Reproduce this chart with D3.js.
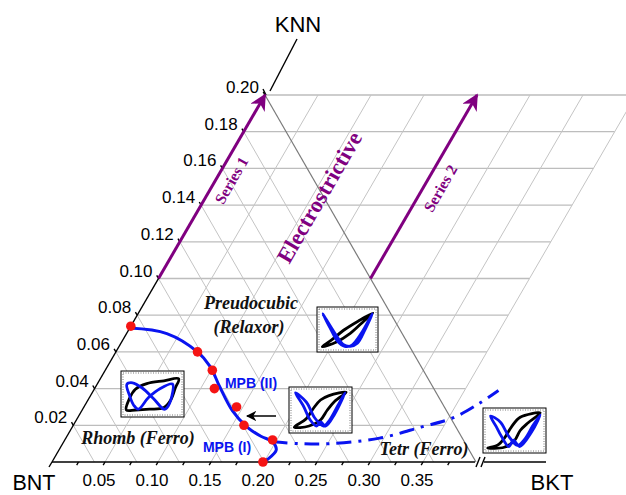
<!DOCTYPE html>
<html>
<head>
<meta charset="utf-8">
<script src="https://cdn.jsdelivr.net/npm/d3@7"></script>
<style>
  html, body { margin: 0; padding: 0; background: #fff; }
  svg { display: block; }
</style>
</head>
<body>
<svg id="chart" width="626" height="495"></svg>
<script>
// ---- data -------------------------------------------------------------
// grid / tick values
const knnTicks = [0.02, 0.04, 0.06, 0.08, 0.10, 0.12, 0.14, 0.16, 0.18, 0.20];
const knnTickLabels = ["0.02", "0.04", "0.06", "0.08", "0.10", "0.12", "0.14", "0.16", "0.18", "0.20"];
const bktTicks = [0.05, 0.10, 0.15, 0.20, 0.25, 0.30, 0.35];
const bktTickLabels = ["0.05", "0.10", "0.15", "0.20", "0.25", "0.30", "0.35"];
const bktMinorTicks = [0.025, 0.075, 0.125, 0.175, 0.225, 0.275, 0.325, 0.375];

// measured compositions [BKT, KNN]
const pointsBKT = [0.000, 0.077, 0.101, 0.113, 0.144, 0.161, 0.196, 0.199];
const pointsKNN = [0.074, 0.060, 0.050, 0.040, 0.030, 0.020, 0.012, 0.000];

// phase boundary (solid) and tetragonal boundary (dash-dot)
const boundaryBKT = [0.000, 0.038, 0.077, 0.097, 0.117, 0.142, 0.165, 0.183, 0.197, 0.205, 0.202, 0.199];
const boundaryKNN = [0.073, 0.070, 0.060, 0.052, 0.041, 0.028, 0.019, 0.014, 0.011, 0.0065, 0.0015, 0.000];
const tetrBKT = [0.197, 0.224, 0.252, 0.296, 0.329, 0.354, 0.371, 0.382];
const tetrKNN = [0.011, 0.010, 0.010, 0.013, 0.019, 0.024, 0.032, 0.039];

// series arrows [BKT, KNN] start and end
const seriesNames = ["Series 1", "Series 2"];
const seriesStart = [[0.00, 0.10], [0.20, 0.10]];
const seriesEnd = [[0.00, 0.20], [0.20, 0.20]];

// hysteresis loops for the insets (normalised field / response)
const loopA_P = [[0.04,0.10],[0.10,0.40],[0.20,0.62],[0.40,0.76],[0.70,0.83],[0.96,0.88],[0.90,0.65],[0.82,0.35],[0.70,0.16],[0.45,0.12],[0.20,0.10]];
const loopA_S = [[0.05,0.74],[0.10,0.45],[0.17,0.22],[0.25,0.12],[0.43,0.41],[0.63,0.63],[0.85,0.75],[0.84,0.45],[0.75,0.15],[0.70,0.12],[0.52,0.38],[0.32,0.65],[0.15,0.78]];
const loopB_P = [[0.04,0.06],[0.30,0.18],[0.55,0.40],[0.80,0.72],[0.96,0.92],[0.70,0.72],[0.45,0.50],[0.20,0.22]];
const loopB_S = [[0.05,0.90],[0.18,0.55],[0.32,0.20],[0.45,0.07],[0.58,0.10],[0.75,0.40],[0.95,0.90],[0.82,0.50],[0.68,0.15],[0.55,0.07],[0.42,0.12],[0.25,0.45]];
const loopC_P = [[0.04,0.07],[0.30,0.10],[0.50,0.25],[0.62,0.50],[0.75,0.72],[0.95,0.94],[0.65,0.86],[0.50,0.75],[0.38,0.55],[0.25,0.28]];
const loopC_S = [[0.06,0.93],[0.20,0.60],[0.32,0.25],[0.43,0.10],[0.50,0.20],[0.59,0.10],[0.75,0.40],[0.93,0.93],[0.80,0.60],[0.66,0.25],[0.55,0.10],[0.40,0.30],[0.25,0.70]];
const loopD_P = [[0.03,0.05],[0.32,0.07],[0.50,0.24],[0.60,0.50],[0.74,0.70],[0.95,0.95],[0.60,0.84],[0.45,0.60],[0.32,0.30],[0.20,0.12]];
const loopD_S = [[0.08,0.87],[0.18,0.60],[0.27,0.35],[0.40,0.09],[0.48,0.25],[0.59,0.09],[0.80,0.46],[0.95,0.90],[0.82,0.62],[0.68,0.28],[0.55,0.12],[0.40,0.35],[0.25,0.72]];

// ---- layout -----------------------------------------------------------
const svg = d3.select("#chart");
const X0 = 52, Y0 = 462;
const bkt = d3.scaleLinear().domain([0, 0.4]).range([0, 424]);
const knnY = d3.scaleLinear().domain([0, 0.2]).range([0, 367]);
const knnX = d3.scaleLinear().domain([0, 0.2]).range([0, 213]);
const px = (b, k) => X0 + bkt(b) + knnX(k);
const py = k => Y0 - knnY(k);

const SANS = "'Liberation Sans', Arial, sans-serif";
const SERIF = "'Liberation Serif', 'Times New Roman', serif";
const PURPLE = "#800080";
const BLUE = "#0a14f0";

// ---- grid -------------------------------------------------------------
const grid = svg.append("g").attr("stroke", "#c4c4c4").attr("stroke-width", 1).attr("fill", "none");
knnTicks.forEach(k => {
  grid.append("line").attr("x1", px(0, k)).attr("y1", py(k)).attr("x2", px(0.35, k)).attr("y2", py(k))
    .attr("stroke", "#bdbdbd").attr("stroke-width", 1.3);
});
bktTicks.forEach(b => {
  grid.append("line").attr("x1", px(b, 0)).attr("y1", py(0)).attr("x2", px(b, 0.2)).attr("y2", py(0.2));
});
knnTicks.filter(k => k < 0.2).forEach(k => {
  grid.append("line").attr("x1", px(0, k)).attr("y1", py(k)).attr("x2", px(2 * k, 0)).attr("y2", py(0));
});
// right edge of the triangle
svg.append("line").attr("x1", px(0, 0.2)).attr("y1", py(0.2)).attr("x2", px(0.4, 0)).attr("y2", py(0))
  .attr("stroke", "#7a7a7a").attr("stroke-width", 1.2);

// ---- axes -------------------------------------------------------------
const axes = svg.append("g").attr("stroke", "#000").attr("fill", "none").attr("stroke-width", 1.4);
axes.append("line").attr("x1", px(0, 0)).attr("y1", py(0)).attr("x2", px(0, 0.2)).attr("y2", py(0.2));
axes.append("line").attr("x1", px(0, 0)).attr("y1", py(0)).attr("x2", px(0.4, 0) - 1).attr("y2", py(0));
// axis break and extension
axes.append("line").attr("x1", 476).attr("y1", 467).attr("x2", 480).attr("y2", 457);
axes.append("line").attr("x1", 481).attr("y1", 467).attr("x2", 485).attr("y2", 457);
axes.append("line").attr("x1", 484).attr("y1", py(0)).attr("x2", 546).attr("y2", py(0));
// KNN axis title leader
axes.append("line").attr("x1", 270).attr("y1", 91).attr("x2", 297).attr("y2", 39);
axes.append("line").attr("x1", 266).attr("y1", 95).attr("x2", 263).attr("y2", 89);

// bottom ticks point down-left along the grid direction
const tickLen = 6;
const dxT = tickLen * Math.cos(Math.PI / 3), dyT = tickLen * Math.sin(Math.PI / 3);
bktTicks.concat(bktMinorTicks).forEach(b => {
  axes.append("line").attr("x1", px(b, 0)).attr("y1", py(0)).attr("x2", px(b, 0) - dxT * 0.6).attr("y2", py(0) + dyT * 0.6);
});
svg.append("line").attr("x1", px(0, 0)).attr("y1", py(0)).attr("x2", px(0, 0) - 3).attr("y2", py(0) + 5)
  .attr("stroke", "#000").attr("stroke-width", 1.4);
// left ticks point up-left
knnTicks.forEach(k => {
  axes.append("line").attr("x1", px(0, k)).attr("y1", py(k)).attr("x2", px(0, k) - dxT * 0.6).attr("y2", py(k) - dyT * 0.6);
});

const labels = svg.append("g").attr("font-family", SANS).attr("font-size", 17).attr("fill", "#000");
bktTicks.forEach((b, i) => {
  labels.append("text").attr("x", px(b, 0) - 6).attr("y", 486).attr("text-anchor", "middle").text(bktTickLabels[i]);
});
knnTicks.forEach((k, i) => {
  labels.append("text").attr("x", px(0, k) - 6).attr("y", py(k) - 2).attr("text-anchor", "end").text(knnTickLabels[i]);
});
const titles = svg.append("g").attr("font-family", SANS).attr("font-size", 22).attr("fill", "#000").attr("text-anchor", "middle");
titles.append("text").attr("x", 298).attr("y", 32).text("KNN");
titles.append("text").attr("x", 34).attr("y", 490).attr("font-size", 21.5).text("BNT");
titles.append("text").attr("x", 552).attr("y", 490).text("BKT");

// ---- series arrows ----------------------------------------------------
const defs = svg.append("defs");
defs.append("marker").attr("id", "headP").attr("viewBox", "0 0 10 10").attr("refX", 9).attr("refY", 5)
  .attr("markerWidth", 5.5).attr("markerHeight", 5.5).attr("orient", "auto").attr("markerUnits", "strokeWidth")
  .append("path").attr("d", "M0,0 L10,5 L0,10 L3,5 Z").attr("fill", PURPLE);
defs.append("marker").attr("id", "headK").attr("viewBox", "0 0 10 10").attr("refX", 9).attr("refY", 5)
  .attr("markerWidth", 7).attr("markerHeight", 7).attr("orient", "auto").attr("markerUnits", "strokeWidth")
  .append("path").attr("d", "M0,0 L10,5 L0,10 L3,5 Z").attr("fill", "#000");

seriesStart.forEach((s, i) => {
  const e = seriesEnd[i];
  svg.append("line").attr("x1", px(s[0], s[1])).attr("y1", py(s[1])).attr("x2", px(e[0], e[1])).attr("y2", py(e[1]))
    .attr("stroke", PURPLE).attr("stroke-width", 3).attr("marker-end", "url(#headP)");
});
const serif = svg.append("g").attr("font-family", SERIF).attr("font-weight", "bold").attr("fill", PURPLE).attr("text-anchor", "middle");
serif.append("text").attr("transform", "translate(236,183) rotate(-60)").attr("font-size", 15.5).text(seriesNames[0]);
serif.append("text").attr("transform", "translate(445,191) rotate(-60)").attr("font-size", 15.5).text(seriesNames[1]);
serif.append("text").attr("transform", "translate(326,201) rotate(-60)").attr("font-size", 22.5).text("Electrostrictive");

// ---- phase labels -----------------------------------------------------
const phase = svg.append("g").attr("font-family", SERIF).attr("font-weight", "bold").attr("font-style", "italic")
  .attr("font-size", 18).attr("fill", "#111").attr("text-anchor", "middle");
phase.append("text").attr("x", 251).attr("y", 309).text("Preudocubic");
phase.append("text").attr("x", 249).attr("y", 333).text("(Relaxor)");
phase.append("text").attr("x", 138).attr("y", 444).text("Rhomb (Ferro)");
phase.append("text").attr("x", 424).attr("y", 455).text("Tetr (Ferro)");

const mpb = svg.append("g").attr("font-family", SANS).attr("font-weight", "bold").attr("font-size", 14)
  .attr("fill", BLUE).attr("text-anchor", "middle");
mpb.append("text").attr("x", 251).attr("y", 388).text("MPB (II)");
mpb.append("text").attr("x", 227).attr("y", 452).text("MPB (I)");

// ---- boundaries and points ---------------------------------------------
const line = d3.line().x(d => px(d[0], d[1])).y(d => py(d[1])).curve(d3.curveCatmullRom.alpha(0.5));
svg.append("path").datum(tetrBKT.map((b, i) => [b, tetrKNN[i]])).attr("d", line)
  .attr("fill", "none").attr("stroke", BLUE).attr("stroke-width", 3).attr("stroke-dasharray", "15,7,3,7");
svg.append("path").datum(boundaryBKT.map((b, i) => [b, boundaryKNN[i]])).attr("d", line)
  .attr("fill", "none").attr("stroke", BLUE).attr("stroke-width", 3);

svg.append("g").selectAll("circle").data(pointsBKT.map((b, i) => [b, pointsKNN[i]])).join("circle")
  .attr("cx", d => px(d[0], d[1])).attr("cy", d => py(d[1])).attr("r", 4.8).attr("fill", "#f51414");

// arrow pointing at the MPB
svg.append("line").attr("x1", 276).attr("y1", 416).attr("x2", 247).attr("y2", 416)
  .attr("stroke", "#000").attr("stroke-width", 1.5).attr("marker-end", "url(#headK)");

// ---- inset loops ------------------------------------------------------
const insets = [
  { box: [121, 371, 63, 46], p: loopA_P, s: loopA_S },
  { box: [317, 307, 61, 45], p: loopB_P, s: loopB_S },
  { box: [289, 387, 63, 46], p: loopC_P, s: loopC_S },
  { box: [483, 408, 63, 45], p: loopD_P, s: loopD_S }
];
insets.forEach(ins => {
  const [x, y, w, h] = ins.box;
  const g = svg.append("g");
  g.append("rect").attr("x", x).attr("y", y).attr("width", w).attr("height", h)
    .attr("fill", "#fff").attr("stroke", "#000").attr("stroke-width", 1);
  g.append("rect").attr("x", x + 2).attr("y", y + 2).attr("width", w - 4).attr("height", h - 4)
    .attr("fill", "none").attr("stroke", "#555").attr("stroke-width", 0.8).attr("stroke-dasharray", "1,1.5");
  const sx = d3.scaleLinear().domain([0, 1]).range([x + 3, x + w - 3]);
  const sy = d3.scaleLinear().domain([0, 1]).range([y + h - 3, y + 3]);
  const loop = d3.line().x(d => sx(d[0])).y(d => sy(d[1])).curve(d3.curveCatmullRomClosed.alpha(0.5));
  g.append("path").datum(ins.p).attr("d", loop).attr("fill", "none").attr("stroke", "#000").attr("stroke-width", 2.8);
  g.append("path").datum(ins.s).attr("d", loop).attr("fill", "none").attr("stroke", BLUE).attr("stroke-width", 2.8);
});
</script>
</body>
</html>
